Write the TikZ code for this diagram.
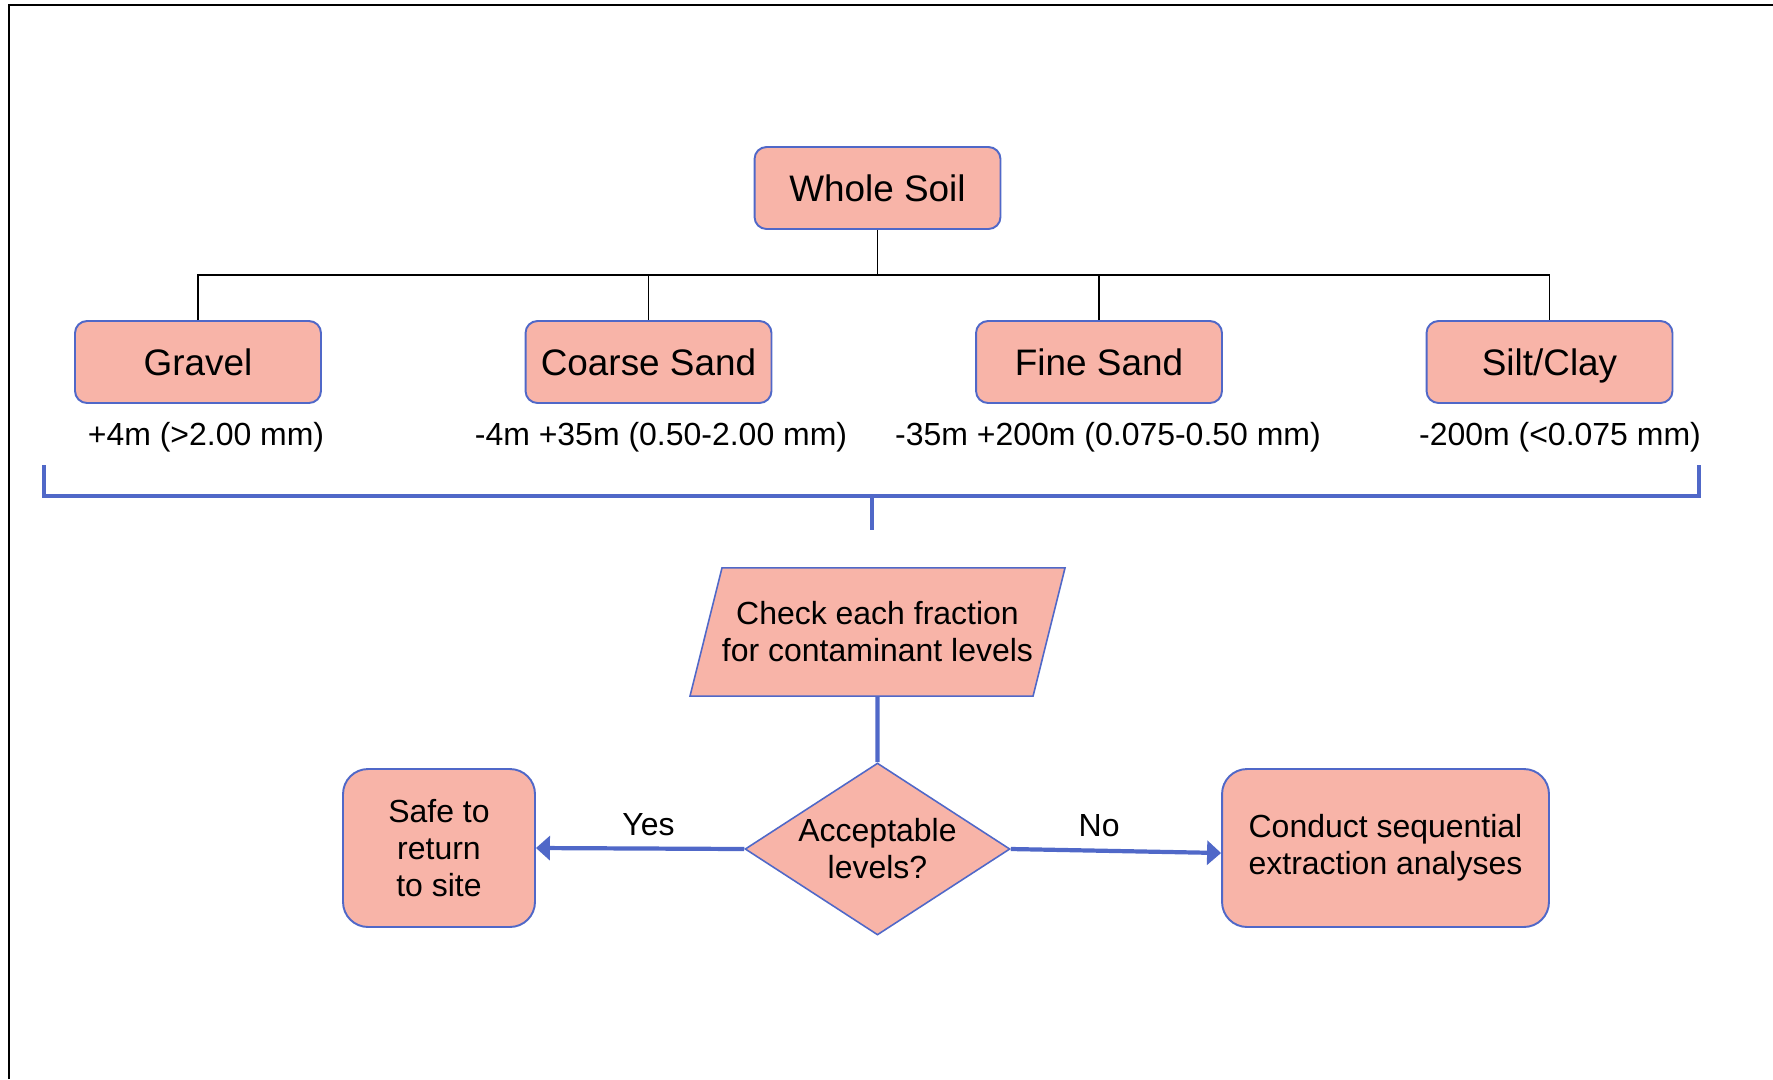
\documentclass[tikz,border=0pt]{standalone}
\usepackage{fontspec}
\setmainfont{Liberation Sans}
\usetikzlibrary{arrows.meta, positioning, shapes.geometric}
\definecolor{SoilFill}{HTML}{F8B4A8}
\definecolor{SoilLine}{HTML}{5068C8}

\begin{document}
\begin{tikzpicture}[x=0.02cm, y=-0.02cm,
  fraction/.style={draw=SoilLine, line width=1.1pt, fill=SoilFill,
    rounded corners=0.24cm, minimum width=4.92cm, minimum height=1.64cm,
    text height=15.1pt, text depth=0pt, font=\fontsize{21}{25}\selectfont},
  sieve/.style={font=\fontsize{18.2}{21}\selectfont},
  outcome/.style={draw=SoilLine, line width=1.1pt, fill=SoilFill,
    rounded corners=0.5cm, minimum height=3.16cm, align=center,
    font=\fontsize{18.2}{21}\selectfont},
  tree/.style={line width=1.1pt},
  flow/.style={draw=SoilLine, line width=2.4pt},
  tip/.style={-{Triangle[length=0.28cm, width=0.48cm]}}]
  \useasboundingbox (0,0) rectangle (1773,1079);

  % Frame
  \draw[line width=1.2pt] (9,1079) -- (9,5) -- (1773,5);

  % Whole soil and its fractions
  \node[fraction] (soil) at (877.5,188) {Whole Soil};
  \node[fraction] (gravel) at (198,362) {Gravel};
  \node[fraction] (coarse) at (648.5,362) {Coarse Sand};
  \node[fraction] (fine) at (1099,362) {Fine Sand};
  \node[fraction] (silt) at (1549.5,362) {Silt/Clay};

  \node[sieve] (gravelsz) at (206,437) {+4m (>2.00 mm)};
  \node[sieve] (coarsesz) at (661,437) {-4m +35m (0.50-2.00 mm)};
  \node[sieve] (finesz) at (1108,437) {-35m +200m (0.075-0.50 mm)};
  \node[sieve] (siltsz) at (1560,437) {-200m (<0.075 mm)};

  \coordinate (bus) at (877.5,275);
  \draw[tree] (soil.south) -- (bus);
  \draw[tree] (gravel.north) -- (gravel.north |- bus) -- (silt.north |- bus)
    -- (silt.north);
  \foreach \n in {coarse, fine}
    \draw[tree] (\n.north) -- (\n.north |- bus);

  % Bracket collecting the fractions
  \draw[flow] (44,465) -- (44,496) -- (1699,496) -- (1699,465);
  \draw[SoilLine, line width=2pt] (872,496) -- (872,530);

  % Contaminant check
  \node[trapezium, trapezium left angle=76, trapezium right angle=104,
    trapezium stretches body, draw=SoilLine, line width=0.9pt, fill=SoilFill,
    inner xsep=0pt, inner ysep=0.68cm, minimum width=7.42cm, align=center,
    font=\fontsize{18.2}{21}\selectfont] (check) at (877.5,632)
    {Check each fraction\\for contaminant levels};
  \node[diamond, aspect=1.54, inner sep=0pt, draw=SoilLine, line width=0.9pt,
    fill=SoilFill, minimum width=5.3cm, minimum height=3.44cm, align=center,
    font=\fontsize{18.2}{21}\selectfont] (accept) at (877.5,849)
    {Acceptable\\levels?};
  \node[outcome, minimum width=3.84cm] (safe) at (439,848)
    {Safe to\\return\\to site};
  \node[outcome, minimum width=6.54cm] (seq) at (1385.5,848)
    {Conduct sequential\\extraction analyses};

  \draw[flow] (check.south) -- (accept.north);
  \draw[flow, tip] (accept.west) -- node[sieve, pos=0.46, above=0.1cm] (yes)
    {Yes} (safe.east);
  \draw[flow, tip] (accept.east) -- node[sieve, pos=0.42, above=0.12cm] (no)
    {No} ([yshift=-0.1cm]seq.west);
\end{tikzpicture}
\end{document}
